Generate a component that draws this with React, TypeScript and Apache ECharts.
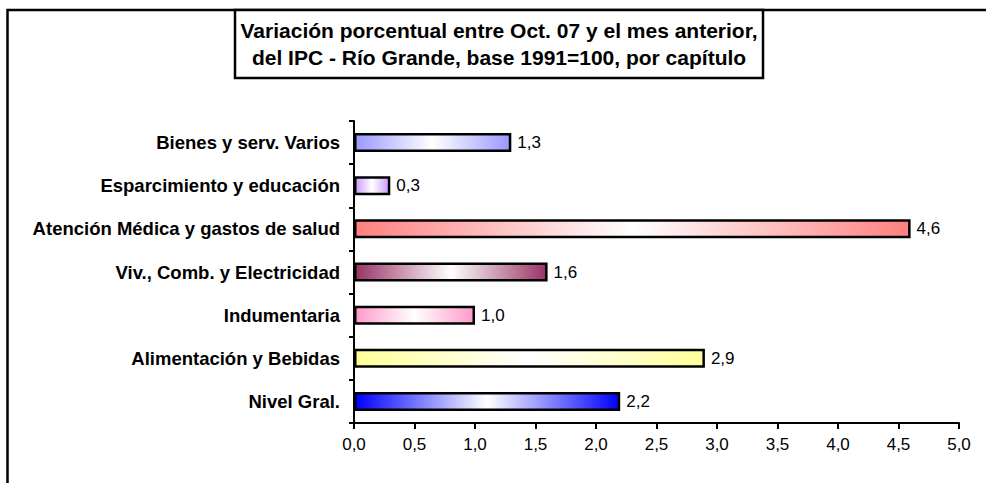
import React, { useEffect, useRef } from "react";
import * as echarts from "echarts";

const categories = [
  "Nivel Gral.",
  "Alimentación y Bebidas",
  "Indumentaria",
  "Viv., Comb. y Electricidad",
  "Atención Médica y gastos de salud",
  "Esparcimiento y educación",
  "Bienes y serv. Varios",
];
const values = [2.2, 2.9, 1.0, 1.6, 4.6, 0.3, 1.3];
const barColors = ["#0000ff", "#ffff99", "#ff99cc", "#993366", "#ff8080", "#cc99ff", "#9999ff"];
const titleLines = [
  "Variación porcentual entre Oct. 07 y el mes anterior,",
  "del IPC - Río Grande, base 1991=100, por capítulo",
];

export default function App() {
  const ref = useRef<HTMLDivElement>(null);
  useEffect(() => {
    if (!ref.current) return;
    const chart = echarts.init(ref.current, null, { renderer: "svg" });
    const grad = (c: string) =>
      new echarts.graphic.LinearGradient(0, 0, 1, 0, [
        { offset: 0, color: c },
        { offset: 0.5, color: "#ffffff" },
        { offset: 1, color: c },
      ]);
    const ff = "Liberation Sans, Arial, sans-serif";
    chart.setOption({
      animation: false,
      backgroundColor: "#ffffff",
      textStyle: { fontFamily: ff },
      graphic: [
        {
          type: "rect",
          shape: { x: 7.5, y: 10, width: 1000, height: 500 },
          style: { fill: "none", stroke: "#000", lineWidth: 2.5 },
          silent: true,
        },
        {
          type: "rect",
          shape: { x: 235, y: 10, width: 528, height: 68 },
          style: { fill: "#fff", stroke: "#000", lineWidth: 2.5 },
          silent: true,
        },
        {
          type: "text",
          x: 499,
          y: 44,
          style: {
            text: titleLines.join("\n"),
            fontFamily: ff,
            fontWeight: "bold",
            fontSize: 21,
            lineHeight: 27,
            fill: "#000",
            align: "center",
            verticalAlign: "middle",
          },
        },
      ],
      grid: { left: 354, right: 27, top: 121, bottom: 60, containLabel: false },
      xAxis: {
        type: "value",
        min: 0,
        max: 5,
        interval: 0.5,
        splitLine: { show: false },
        axisLine: { show: true, lineStyle: { color: "#000", width: 2 } },
        axisTick: { show: true, length: 6, lineStyle: { color: "#000", width: 2 } },
        axisLabel: {
          color: "#000",
          fontFamily: ff,
          fontSize: 17,
          margin: 13,
          formatter: (v: number) => v.toFixed(1).replace(".", ","),
        },
      },
      yAxis: {
        type: "category",
        data: categories,
        axisLine: { show: true, lineStyle: { color: "#000", width: 2 } },
        axisTick: { show: true, length: 5, lineStyle: { color: "#000", width: 2 } },
        axisLabel: { color: "#000", fontFamily: ff, fontSize: 18.5, fontWeight: "bold", margin: 14 },
      },
      series: [
        {
          type: "bar",
          barWidth: 19,
          data: values.map((v, i) => ({
            value: v,
            itemStyle: { color: grad(barColors[i]), borderColor: "#000", borderWidth: 2.5 },
          })),
          label: {
            show: true,
            position: "right",
            distance: 6,
            color: "#000",
            fontFamily: ff,
            fontSize: 17,
            formatter: (p: any) => Number(p.value).toFixed(1).replace(".", ","),
          },
        },
      ],
    });
    return () => chart.dispose();
  }, []);
  return (
    <div
      ref={ref}
      style={{ position: "fixed", left: 0, top: 0, width: 986, height: 483 }}
    />
  );
}
